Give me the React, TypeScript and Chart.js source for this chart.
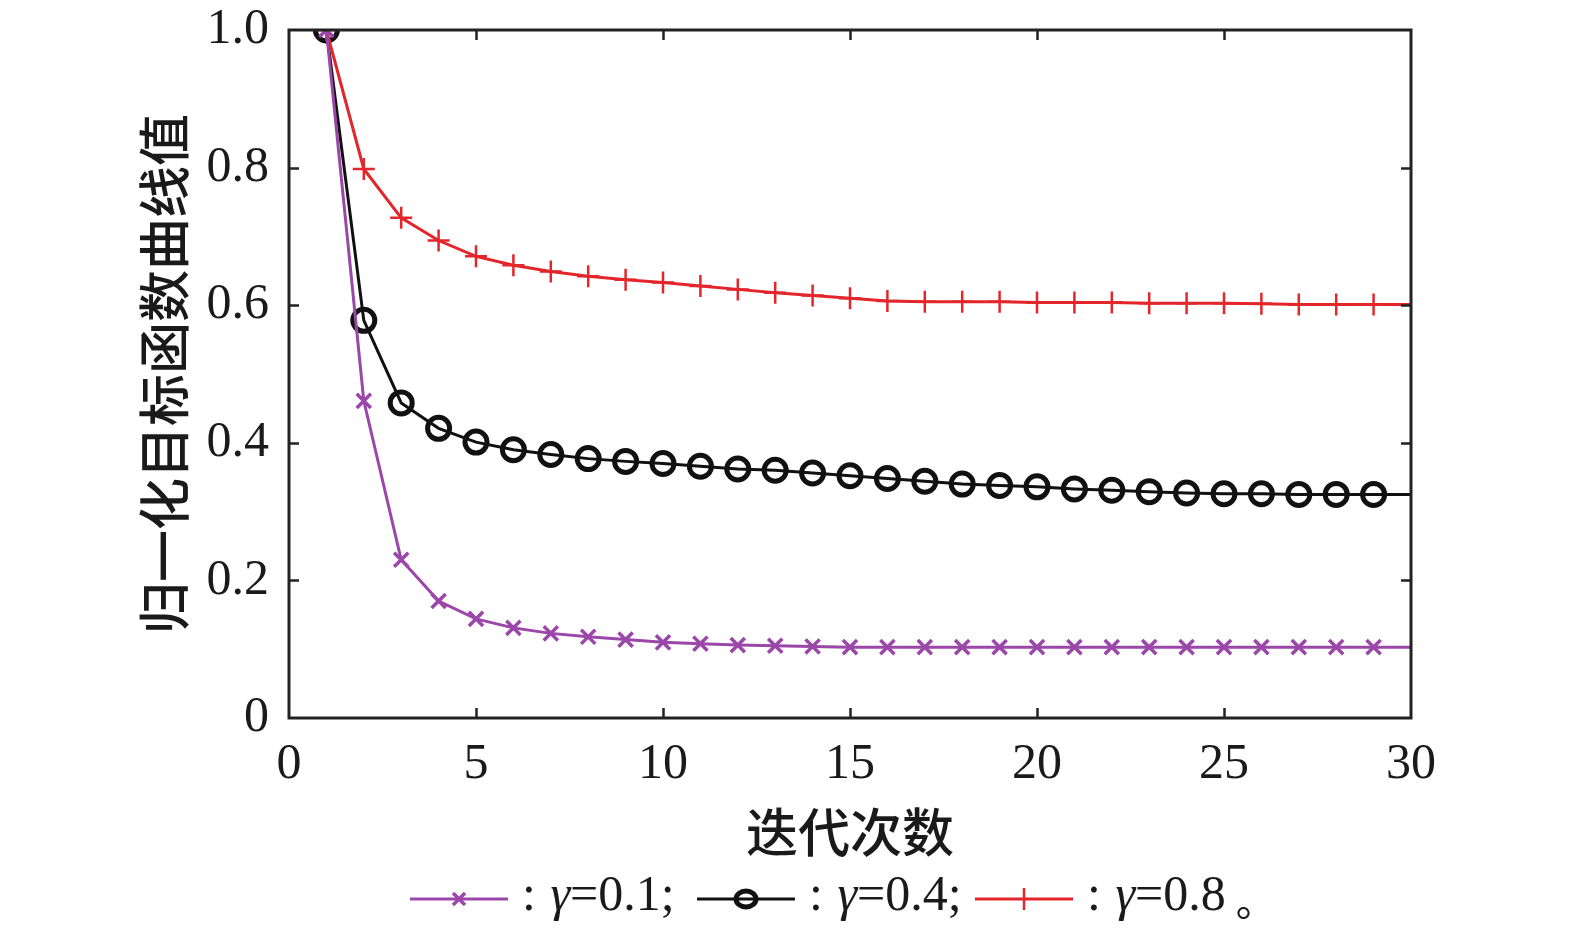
import React, { useEffect, useRef } from "react";
import { Chart, registerables } from "chart.js";

Chart.register(...registerables);

const iterations: number[] = Array.from({ length: 30 }, (_, i) => i + 1);
const gamma01: number[] = [1.0, 0.461, 0.230, 0.170, 0.144, 0.131, 0.123, 0.118, 0.114, 0.110, 0.108, 0.106, 0.105, 0.104, 0.103, 0.103, 0.103, 0.103, 0.103, 0.103, 0.103, 0.103, 0.103, 0.103, 0.103, 0.103, 0.103, 0.103, 0.103, 0.103];
const gamma04: number[] = [1.0, 0.578, 0.458, 0.421, 0.401, 0.390, 0.383, 0.377, 0.373, 0.370, 0.366, 0.362, 0.360, 0.356, 0.352, 0.348, 0.344, 0.340, 0.338, 0.336, 0.333, 0.331, 0.329, 0.327, 0.326, 0.326, 0.325, 0.325, 0.325, 0.325];
const gamma08: number[] = [1.0, 0.798, 0.727, 0.694, 0.671, 0.658, 0.649, 0.642, 0.637, 0.633, 0.628, 0.623, 0.618, 0.614, 0.610, 0.606, 0.605, 0.605, 0.605, 0.604, 0.604, 0.604, 0.603, 0.603, 0.603, 0.602, 0.601, 0.601, 0.601, 0.601];
const seriesLabels: string[] = ["0.1", "0.4", "0.8"];
const xTitle = "迭代次数";
const yTitle = "归一化目标函数曲线值";

const PURPLE = "#9b46a9";
const BLACK = "#111111";
const RED = "#e3262b";
const SERIF = "'Liberation Serif', 'Times New Roman', serif";
const CJK = "'Noto Sans CJK SC', sans-serif";

const toPoints = (ys: number[]) => ys.map((y, i) => ({ x: iterations[i], y }));
const hideLast = (r: number) => (ctx: any) => (ctx.dataIndex === iterations.length - 1 ? 0 : r);

const framePlugin = {
  id: "frame",
  afterDatasetsDraw(chart: any) {
    const { ctx, chartArea, scales } = chart;
    const { left, right, top, bottom } = chartArea;
    ctx.save();
    ctx.strokeStyle = "#222";
    ctx.lineWidth = 2.5;
    const tl = 10;
    ctx.beginPath();
    scales.x.ticks.forEach((t: any) => {
      if (t.value <= 0 || t.value >= 30) return;
      const px = Math.round(scales.x.getPixelForValue(t.value)) + 0.5;
      ctx.moveTo(px, bottom);
      ctx.lineTo(px, bottom - tl);
      ctx.moveTo(px, top);
      ctx.lineTo(px, top + tl);
    });
    scales.y.ticks.forEach((t: any) => {
      if (t.value <= 0 || t.value >= 1) return;
      const py = Math.round(scales.y.getPixelForValue(t.value)) + 0.5;
      ctx.moveTo(left, py);
      ctx.lineTo(left + tl, py);
      ctx.moveTo(right, py);
      ctx.lineTo(right - tl, py);
    });
    ctx.stroke();
    ctx.lineWidth = 3;
    ctx.strokeRect(left, top, right - left, bottom - top);
    ctx.restore();
  },
  afterDraw(chart: any) {
    const { ctx } = chart;
    const ly = 899;
    const items = [
      { x0: 410, color: PURPLE, style: "crossRot" },
      { x0: 697, color: BLACK, style: "circle" },
      { x0: 975, color: RED, style: "cross" },
    ];
    ctx.save();
    items.forEach((it, i) => {
      ctx.strokeStyle = it.color;
      ctx.lineWidth = 3;
      ctx.beginPath();
      ctx.moveTo(it.x0, ly);
      ctx.lineTo(it.x0 + 98, ly);
      ctx.stroke();
      const cx = it.x0 + 49;
      ctx.beginPath();
      if (it.style === "crossRot") {
        const r = 6;
        ctx.lineWidth = 3.5;
        ctx.moveTo(cx - r, ly - r);
        ctx.lineTo(cx + r, ly + r);
        ctx.moveTo(cx + r, ly - r);
        ctx.lineTo(cx - r, ly + r);
      } else if (it.style === "circle") {
        ctx.lineWidth = 5;
        ctx.ellipse(cx, ly, 10, 8, 0, 0, Math.PI * 2);
      } else {
        const r = 11;
        ctx.lineWidth = 2.5;
        ctx.moveTo(cx, ly - r);
        ctx.lineTo(cx, ly + r);
      }
      ctx.stroke();
      let tx = it.x0 + 112;
      ctx.fillStyle = "#1a1a1a";
      ctx.textBaseline = "middle";
      ctx.textAlign = "left";
      ctx.font = `50px ${SERIF}`;
      ctx.fillText(":", tx, ly - 2);
      tx += ctx.measureText(": ").width + 2;
      ctx.font = `italic 50px ${SERIF}`;
      ctx.fillText("γ", tx, ly - 2);
      tx += ctx.measureText("γ").width;
      ctx.font = `50px ${SERIF}`;
      const rest = "=" + seriesLabels[i] + (i < 2 ? ";" : "");
      ctx.fillText(rest, tx, ly - 2);
      if (i === 2) {
        tx += ctx.measureText(rest).width + 10;
        ctx.font = `40px ${CJK}`;
        ctx.fillText("。", tx, ly + 2);
      }
    });
    ctx.restore();
  },
};

export default function App() {
  const ref = useRef<HTMLCanvasElement | null>(null);
  useEffect(() => {
    document.body.style.margin = "0";
    const canvas = ref.current;
    if (!canvas) return;
    const chart = new Chart(canvas, {
      type: "line",
      data: {
        datasets: [
          {
            label: "γ=0.1",
            data: toPoints(gamma01),
            borderColor: PURPLE,
            backgroundColor: "rgba(0,0,0,0)",
            borderWidth: 3,
            pointStyle: "crossRot",
            pointRadius: hideLast(10),
            pointBorderColor: PURPLE,
            pointBorderWidth: 3.5,
            tension: 0,
          },
          {
            label: "γ=0.8",
            data: toPoints(gamma08),
            borderColor: RED,
            backgroundColor: "rgba(0,0,0,0)",
            borderWidth: 3,
            pointStyle: "cross",
            pointRadius: hideLast(11),
            pointBorderColor: RED,
            pointBorderWidth: 2.5,
            tension: 0,
          },
          {
            label: "γ=0.4",
            data: toPoints(gamma04),
            borderColor: BLACK,
            backgroundColor: "rgba(0,0,0,0)",
            borderWidth: 3,
            pointStyle: "circle",
            pointRadius: hideLast(11),
            pointBorderColor: BLACK,
            pointBackgroundColor: "rgba(0,0,0,0)",
            pointBorderWidth: 5,
            tension: 0,
          },
        ],
      },
      options: {
        animation: false,
        responsive: false,
        devicePixelRatio: 1,
        layout: { padding: { top: 30, right: 164, bottom: 65, left: 0 } },
        plugins: { legend: { display: false }, tooltip: { enabled: false } },
        scales: {
          x: {
            type: "linear",
            min: 0,
            max: 30,
            grid: { display: false, drawTicks: false },
            border: { display: false },
            ticks: {
              stepSize: 5,
              padding: 17,
              color: "#1a1a1a",
              font: { family: SERIF, size: 50 },
              maxRotation: 0,
            },
            title: {
              display: true,
              text: xTitle,
              color: "#1a1a1a",
              font: { family: CJK, size: 52, weight: "500" },
              padding: { top: 0, bottom: 5 },
            },
            afterFit: (s: any) => {
              s.height = 150;
            },
          },
          y: {
            type: "linear",
            min: 0,
            max: 1,
            grid: { display: false, drawTicks: false },
            border: { display: false },
            ticks: {
              stepSize: 0.2,
              padding: 20,
              color: "#1a1a1a",
              font: { family: SERIF, size: 50 },
              callback: (v: any) => (Number(v) === 0 ? "0" : Number(v).toFixed(1)),
            },
            title: {
              display: true,
              text: yTitle,
              color: "#1a1a1a",
              font: { family: CJK, size: 52, weight: "500" },
              padding: { top: 133, bottom: 0 },
            },
            afterFit: (s: any) => {
              s.width = 289;
              s.paddingTop = 0;
              s.paddingBottom = 0;
            },
          },
        },
      },
      plugins: [framePlugin],
    } as any);
    return () => chart.destroy();
  }, []);
  return (
    <div style={{ width: 1575, height: 933, background: "#fff" }}>
      <canvas ref={ref} width={1575} height={933} style={{ width: 1575, height: 933, display: "block" }} />
    </div>
  );
}
